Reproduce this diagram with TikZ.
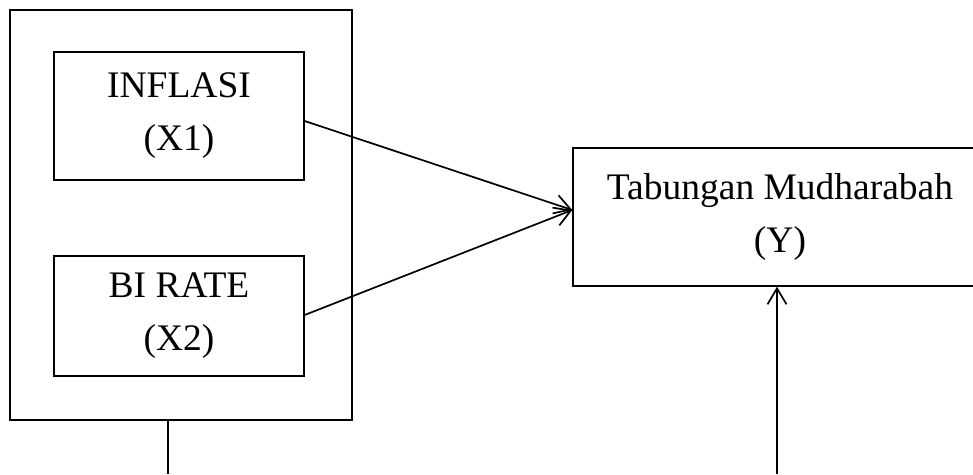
\documentclass[tikz,border=0pt]{standalone}
\usepackage{fontspec}
\setmainfont{Liberation Serif}
\usetikzlibrary{arrows.meta,calc}
\begin{document}
\begin{tikzpicture}[x=1pt,y=-1pt,
  txt/.style={inner sep=0pt,align=center,font=\fontsize{37.5}{53}\selectfont},
  box/.style={draw,line width=1.3pt,rectangle,txt},
  outerbox/.style={draw,line width=1.7pt,rectangle,inner sep=0pt},
  arr/.style={line width=1.7pt,-{Straight Barb[length=16pt,width=19pt,line width=1.7pt]}},
  conn/.style={line width=1.7pt}]
\useasboundingbox (0,0) rectangle (973,474);
\clip (0,0) rectangle (973,474);
\node[outerbox,minimum width=342pt,minimum height=410pt] (outer) at (181,215) {};
\node[box,minimum width=250pt,minimum height=128pt] (x1) at (179,116) {INFLASI\\(X1)};
\node[box,minimum width=250pt,minimum height=120pt] (x2) at (179,316) {BI RATE\\(X2)};
\node[draw,line width=1.3pt,rectangle,inner sep=0pt,minimum width=460pt,minimum height=138pt] (y) at (803,217) {};
\node[txt] (ytext) at (780,217) {Tabungan Mudharabah\\(Y)};
\coordinate (yin) at ($(y.west)+(0,-7)$);
\draw[arr] ($(x1.east)+(0,5)$) -- (yin);
\draw[arr] ($(x2.east)+(0,-1)$) -- (yin);
\coordinate (l1) at (168,474);
\draw[conn] (outer.south -| l1) -- (l1);
\coordinate (r1) at (777,474);
\draw[arr] (r1) -- (r1 |- y.south);
\end{tikzpicture}
\end{document}
